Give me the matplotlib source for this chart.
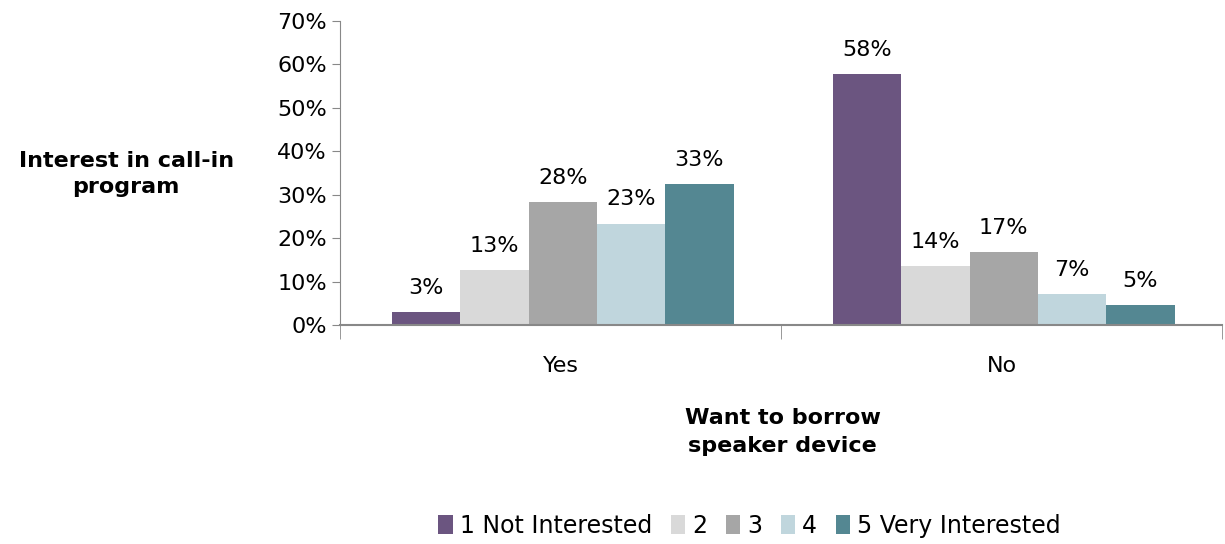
import matplotlib.pyplot as plt
import numpy as np

groups = ["Yes", "No"]
series = ["1 Not Interested", "2", "3", "4", "5 Very Interested"]
values = [
    [3.0, 57.8],
    [12.7, 13.6],
    [28.3, 16.8],
    [23.3, 7.1],
    [32.5, 4.6],
]
labels = [
    ["3%", "58%"],
    ["13%", "14%"],
    ["28%", "17%"],
    ["23%", "7%"],
    ["33%", "5%"],
]
colors = ["#6B5580", "#D9D9D9", "#A6A6A6", "#C0D6DD", "#548792"]

plt.rcParams['font.family'] = ['DejaVu Sans']

fig = plt.figure(figsize=(12.25, 5.44), dpi=100)
ax = fig.add_axes([0.2776, 0.4026, 0.72, 0.5588])

x = np.arange(len(groups))
width = 0.155
for i, s in enumerate(series):
    pos = x + (i - 2) * width + 0.005
    bars = ax.bar(pos, values[i], width, color=colors[i], label=s)
    for b, lab in zip(bars, labels[i]):
        ax.text(b.get_x() + b.get_width() / 2, b.get_height() + 3.3, lab,
                ha="center", va="bottom", fontsize=16)

ax.set_xlim(-0.5, 1.5)
ax.set_ylim(0, 70)
ax.set_yticks(range(0, 71, 10))
ax.set_yticklabels([f"{v}%" for v in range(0, 71, 10)], fontsize=16)
ax.set_xticks(x)
ax.set_xticklabels(groups, fontsize=16)
ax.tick_params(axis="x", length=0, pad=22)
ax.set_xticks([-0.5, 0.5, 1.5], minor=True)
ax.tick_params(axis="x", which="minor", length=10, color="#888888")
ax.tick_params(axis="y", length=6, color="#888888")

for side in ["top", "right"]:
    ax.spines[side].set_visible(False)
ax.spines["left"].set_color("#888888")
ax.spines["bottom"].set_color("#888888")
ax.spines["bottom"].set_linewidth(1.5)

fig.text(0.103, 0.68, "Interest in call-in\nprogram", ha="center", va="center",
         fontsize=16, fontweight="bold", linespacing=1.4)
fig.text(0.639, 0.205, "Want to borrow\nspeaker device", ha="center", va="center",
         fontsize=16, fontweight="bold", linespacing=1.5)

fig.legend(loc="center", bbox_to_anchor=(0.612, 0.034), ncol=5, frameon=False,
           fontsize=17, handlelength=0.6, handleheight=0.9, handletextpad=0.3,
           columnspacing=0.8)

fig.savefig("out.png", dpi=100)
